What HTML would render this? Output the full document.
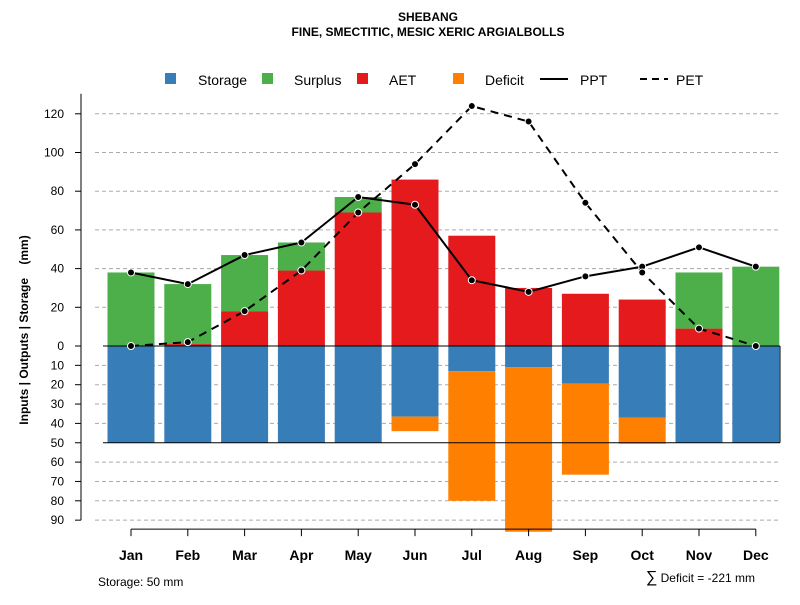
<!DOCTYPE html>
<html><head><meta charset="utf-8"><style>
body{margin:0;background:#fff;font-family:"Liberation Sans",sans-serif}
svg text{font-family:"Liberation Sans",sans-serif}
</style></head><body>
<svg id="c" width="800" height="600">
<text x="428" y="21" text-anchor="middle" font-size="12" font-weight="bold">SHEBANG</text>
<text x="428" y="36" text-anchor="middle" font-size="12" font-weight="bold">FINE, SMECTITIC, MESIC XERIC ARGIALBOLLS</text>
<text transform="translate(28,330) rotate(-90)" text-anchor="middle" font-size="12" font-weight="bold">Inputs | Outputs | Storage&#160;&#160;&#160;&#160;(mm)</text>
<text x="98" y="586" font-size="12">Storage: 50 mm</text>
<text x="755" y="582" text-anchor="end" font-size="12"><tspan font-size="16">∑</tspan> Deficit = -221 mm</text>
<g id="grid"></g><g id="bars"></g><g id="lines"></g><g id="axes"></g>
<g font-size="14">
<rect x="165" y="73" width="11" height="11" fill="#377eb8"/><text x="198" y="85">Storage</text>
<rect x="262" y="73" width="11" height="11" fill="#4daf4a"/><text x="294" y="85">Surplus</text>
<rect x="357" y="73" width="11" height="11" fill="#e41a1c"/><text x="389" y="85">AET</text>
<rect x="453" y="73" width="11" height="11" fill="#ff7f00"/><text x="485" y="85">Deficit</text>
<line x1="540" y1="79" x2="568" y2="79" stroke="#000" stroke-width="2"/><text x="580" y="85">PPT</text>
<line x1="640" y1="79" x2="668" y2="79" stroke="#000" stroke-width="2" stroke-dasharray="7,5"/><text x="676" y="85">PET</text>
</g>
</svg>
<script>
const months=["Jan","Feb","Mar","Apr","May","Jun","Jul","Aug","Sep","Oct","Nov","Dec"];
const ppt=[38,32,47,53.5,77,73,34,28,36,41,51,41];
const pet=[0,2,18,39,69,94,124,116,74,38,9,0];
const aet=[0,1,18,39,69,86,57,30,27,24,9,0];
const surplus=[38,31,29,14.5,8,0,0,0,0,0,29,41];
const storage=[50,50,50,50,50,36.5,13,11,19.5,37,50,50];
const deficit=[0,0,0,0,0,7.5,67,85,47,13.5,0,0];
const upTicks=[0,20,40,60,80,100,120];
const downTicks=[10,20,30,40,50,60,70,80,90];
const NS="http://www.w3.org/2000/svg";
const y0=346,k=1.935;
const yU=v=>y0-v*k, yD=v=>y0+v*k;
const xC=i=>131+i*56.8, bw=47;
function mk(p,t,a){const e=document.createElementNS(NS,t);for(const n in a)e.setAttribute(n,a[n]);document.getElementById(p).appendChild(e);return e;}
upTicks.concat(downTicks.map(d=>-d)).forEach(v=>{
 const y=v>=0?yU(v):yD(-v);
 if(v!==0&&v!==-50){const g=mk('grid','line',{x1:95,x2:780,y1:y,y2:y,stroke:'#aaa','stroke-dasharray':'4,3'});
 
 }
 const t=mk('axes','text',{x:64,y:y+4,'text-anchor':'end','font-size':12});t.textContent=Math.abs(v);
 
 
 const tl=mk('axes','line',{x1:75,x2:81,y1:y,y2:y,stroke:'#000'});
 
 
});
const ax=mk('axes','line',{x1:81,x2:81,y1:yU(120)-20,y2:yD(90),stroke:'#000'});


const xa=mk('axes','line',{x1:xC(0),x2:xC(11),y1:yD(90)+9,y2:yD(90)+9,stroke:'#000'});


months.forEach((m,i)=>{
 const x=xC(i);
 const tk=mk('axes','line',{x1:x,x2:x,y1:yD(90)+9,y2:yD(90)+16,stroke:'#000'});
 
 
 const t=mk('axes','text',{x:x,y:560,'text-anchor':'middle','font-size':14,'font-weight':'bold'});t.textContent=m;
 
 
 const segs=[[yD(storage[i]),y0,'#377eb8','storage-bar'],[yD(storage[i]+deficit[i]),yD(storage[i]),'#ff7f00','deficit-bar'],[yU(aet[i]),y0,'#e41a1c','aet-bar'],[yU(aet[i]+surplus[i]),yU(aet[i]),'#4daf4a','surplus-bar']];
 segs.forEach(s=>{const top=Math.min(s[0],s[1]),h=Math.abs(s[1]-s[0]);if(h<=0)return;
  const r=mk('bars','rect',{x:x-bw/2,y:top,width:bw,height:h,fill:s[2]});
  
  });
});
const zl=mk('bars','line',{x1:103,x2:780,y1:y0,y2:y0,stroke:'#000'});


const sl=mk('bars','line',{x1:103,x2:780,y1:yD(50),y2:yD(50),stroke:'#000'});


const rl=mk('bars','line',{x1:780,x2:780,y1:y0,y2:yD(50),stroke:'#000'});


[[ppt,'ppt-line',null],[pet,'pet-line','8,6']].forEach(s=>{
 const a={points:s[0].map((v,i)=>xC(i)+','+yU(v)).join(' '),fill:'none',stroke:'#000','stroke-width':2};
 if(s[2])a['stroke-dasharray']=s[2];
 const p=mk('lines','polyline',a);
 
 
 s[0].forEach((v,i)=>{const c=mk('lines','circle',{cx:xC(i),cy:yU(v),r:3.5,fill:'#000',stroke:'#fff','stroke-width':1});
  
  });
});
</script>
</body></html>
